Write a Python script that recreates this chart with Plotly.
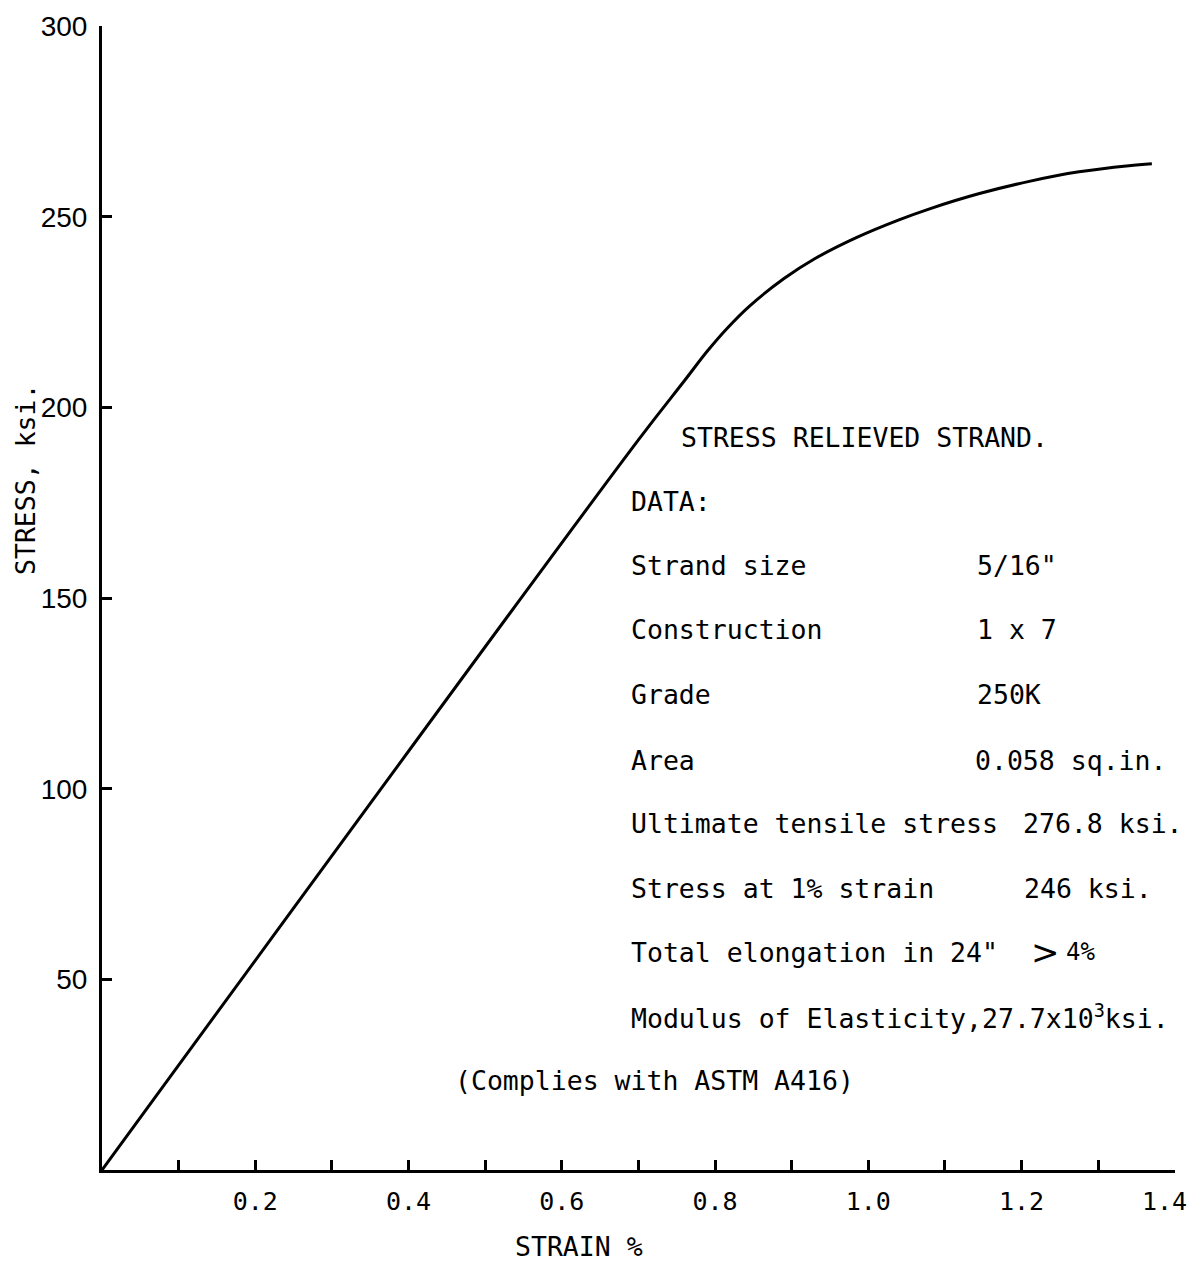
import plotly.graph_objects as go

# ---- data ----
strain = [0.0, 0.70, 0.76, 0.79, 0.815, 0.845, 0.89, 0.93, 0.985, 1.04, 1.08, 1.145, 1.21, 1.275, 1.34, 1.37]
stress = [0.0, 191.5, 207.0, 214.8, 220.6, 226.6, 233.8, 239.0, 244.6, 249.2, 252.1, 256.1, 259.3, 261.8, 263.4, 263.9]

x_major_vals = [0.2, 0.4, 0.6, 0.8, 1.0, 1.2]
x_major_text = ["0.2", "0.4", "0.6", "0.8", "1.0", "1.2"]
x_last_label = "1.4"
x_minor_vals = [0.1, 0.3, 0.5, 0.7, 0.9, 1.1, 1.3, 1.4]
y_tick_vals = [50, 100, 150, 200, 250, 300]
y_tick_text = ["50", "100", "150", "200", "250", "300"]

title_text = "STRESS RELIEVED STRAND."
data_header = "DATA:"
row_labels = ["Strand size", "Construction", "Grade", "Area",
              "Ultimate tensile stress", "Stress at 1% strain",
              "Total elongation in 24\""]
row_values = ["5/16\"", "1 x 7", "250K", "0.058 sq.in.",
              "276.8 ksi.", "246 ksi.", "4%"]
modulus_line = "Modulus of Elasticity,27.7x10<sup>3</sup>ksi."
footnote = "(Complies with ASTM A416)"
x_title = "STRAIN %"
y_title = "STRESS, ksi."

# ---- layout geometry (pixels) ----
W, H = 1193, 1262
L, R, T, B = 102, 18, 26, 92
PW, PH = W - L - R, H - T - B


def pxx(x):
    return (x - L) / PW


def pxy(y):
    return (H - B - y) / PH


MONO = "DejaVu Sans Mono"
fs = 26.5

fig = go.Figure()
fig.add_trace(go.Scatter(
    x=strain, y=stress, mode="lines",
    line=dict(color="black", width=3, shape="spline", smoothing=1.0),
    hoverinfo="skip", showlegend=False))

ann = []


def add(text, x, y, xanchor="left", size=fs, family=MONO, **kw):
    ann.append(dict(text=text, x=pxx(x), y=pxy(y), xref="paper", yref="paper",
                    xanchor=xanchor, yanchor="middle", showarrow=False,
                    font=dict(family=family, size=size, color="black"), **kw))


add(title_text, 679, 438)
add(data_header, 629, 502)
row_y = [566, 630, 694, 760, 823, 888, 952]
val_x = [975, 975, 975, 973, 1021, 1022, 1064]
for i, (lab, val) in enumerate(zip(row_labels, row_values)):
    add(lab, 629, row_y[i])
    if i == 6:
        add(">", 1029, row_y[i], size=34, family="DejaVu Sans")
        add(val, val_x[i], row_y[i], size=24)
    else:
        add(val, val_x[i], row_y[i])
add(modulus_line, 629, 1017)
add(footnote, 453, 1080)
add(x_title, 579, 1246, xanchor="center")
add(y_title, 25, 480, xanchor="center", textangle=-90)
add(x_last_label, 1164, 1201, xanchor="center", size=25)

fig.update_layout(
    width=W, height=H,
    margin=dict(l=L, r=R, t=T, b=B, pad=0),
    paper_bgcolor="white", plot_bgcolor="white",
    showlegend=False,
    annotations=ann,
    xaxis=dict(range=[0, 1.4002], showgrid=False, zeroline=False,
               showline=True, linecolor="black", linewidth=3,
               ticks="inside", ticklen=10, tickwidth=2.5, tickcolor="black",
               tickvals=x_major_vals, ticktext=x_major_text,
               tickfont=dict(family=MONO, size=25, color="black"),
               ticklabelstandoff=7, automargin=False,
               minor=dict(tickvals=x_minor_vals, ticks="inside", ticklen=10,
                          tickwidth=2.5, tickcolor="black", showgrid=False)),
    yaxis=dict(range=[0, 300.05], showgrid=False, zeroline=False,
               showline=True, linecolor="black", linewidth=3,
               ticks="inside", ticklen=10, tickwidth=2.5, tickcolor="black",
               tickvals=y_tick_vals, ticktext=y_tick_text,
               tickfont=dict(family="Liberation Sans", size=28, color="black"),
               ticklabelstandoff=6, automargin=False,
               ticklabeloverflow="allow"),
)

fig.write_html("out.html")
